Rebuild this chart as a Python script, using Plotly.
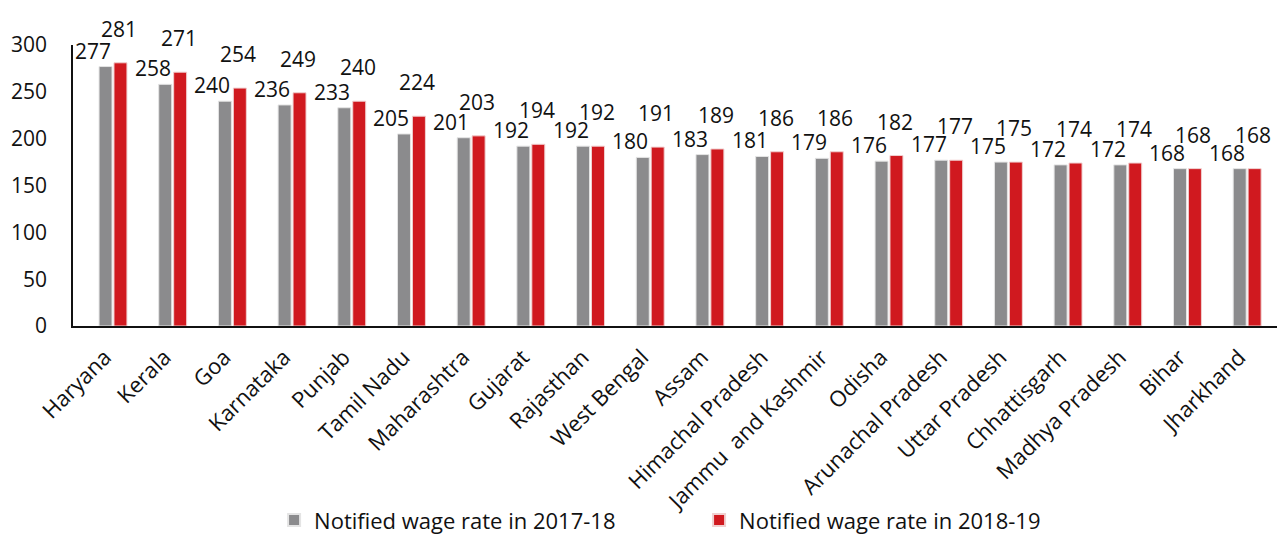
import plotly.graph_objects as go

states = ["Haryana", "Kerala", "Goa", "Karnataka", "Punjab", "Tamil Nadu", "Maharashtra",
          "Gujarat", "Rajasthan", "West Bengal", "Assam", "Himachal Pradesh",
          "Jammu  and Kashmir", "Odisha", "Arunachal Pradesh", "Uttar Pradesh",
          "Chhattisgarh", "Madhya Pradesh", "Bihar", "Jharkhand"]
wage_2017_18 = [277, 258, 240, 236, 233, 205, 201, 192, 192, 180, 183, 181, 179, 176, 177, 175, 172, 172, 168, 168]
wage_2018_19 = [281, 271, 254, 249, 240, 224, 203, 194, 192, 191, 189, 186, 186, 182, 177, 175, 174, 174, 168, 168]
series_names = ["Notified wage rate in 2017-18", "Notified wage rate in 2018-19"]
y_ticks = [0, 50, 100, 150, 200, 250, 300]

GRAY = "#8b8b8d"
RED = "#d0191f"
FONT = "Open Sans"
INK = "#111111"

fig = go.Figure()
fig.add_trace(go.Bar(x=states, y=wage_2017_18, name=series_names[0],
                     marker=dict(color=GRAY, line=dict(color="#e4e4e4", width=1))))
fig.add_trace(go.Bar(x=states, y=wage_2018_19, name=series_names[1],
                     marker=dict(color=RED, line=dict(color="#f0d0d0", width=1))))

annotations = []
for s, g, r in zip(states, wage_2017_18, wage_2018_19):
    annotations.append(dict(x=s, y=g, xref="x", yref="y", text=str(g), showarrow=False,
                            xanchor="right", yanchor="bottom", xshift=0, yshift=0,
                            font=dict(family=FONT, size=21, color=INK)))
    annotations.append(dict(x=s, y=r, xref="x", yref="y", text=str(r), showarrow=False,
                            xanchor="center", yanchor="bottom", xshift=6, yshift=18,
                            font=dict(family=FONT, size=21, color=INK)))

fig.update_layout(
    width=1277, height=542,
    margin=dict(l=73, r=0, t=45, b=216),
    paper_bgcolor="white", plot_bgcolor="white",
    barmode="group", bargap=0.5, bargroupgap=0.13,
    font=dict(family=FONT, size=21, color=INK),
    showlegend=True,
    legend=dict(orientation="h", x=0.52, xanchor="center", y=-0.766, yanchor="bottom",
                entrywidth=380, entrywidthmode="pixels", bgcolor="rgba(0,0,0,0)",
                font=dict(family=FONT, size=22, color=INK),
                itemsizing="constant", traceorder="normal"),
    annotations=annotations,
)
fig.update_xaxes(showline=True, linecolor=INK, linewidth=1.5, ticks="",
                 tickangle=-45, tickfont=dict(family=FONT, size=22), showgrid=False,
                 automargin=False, ticklabelshift=-8, ticklabelstandoff=8)
fig.update_yaxes(range=[0, 300], tickvals=y_ticks, showline=True, linecolor=INK,
                 linewidth=1.5, ticks="", showgrid=False, zeroline=False,
                 ticklabelstandoff=20, tickfont=dict(family=FONT, size=21),
                 automargin=False)

fig.write_html("out.html", config={"displayModeBar": False},
               post_script="document.body.style.margin='0';")
